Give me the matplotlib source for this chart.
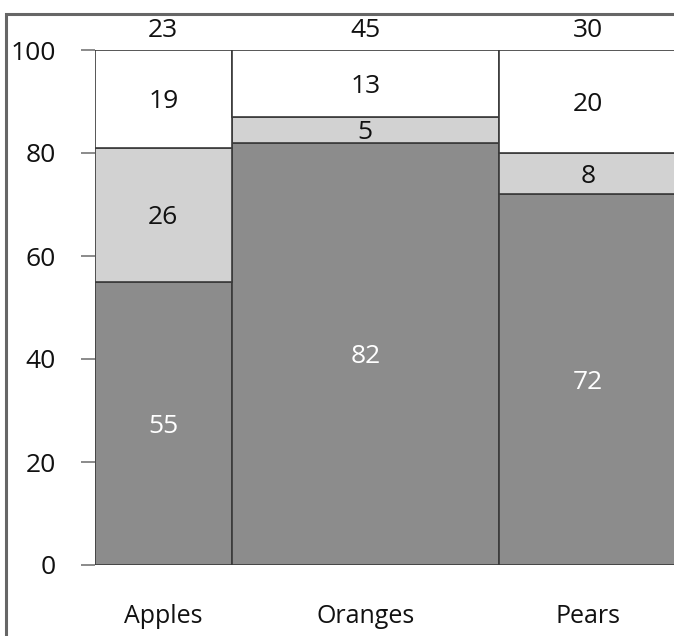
import matplotlib.pyplot as plt
import numpy as np
from matplotlib.patches import Rectangle

# Data
categories = ['Apples', 'Oranges', 'Pears']
widths = [23, 45, 30]
bottom_share = [55, 82, 72]
middle_share = [26, 5, 8]
top_share = [19, 13, 20]

plt.rcParams['font.family'] = ['Open Sans', 'DejaVu Sans']

fig = plt.figure(figsize=(6.74, 6.36), dpi=100)
ax = fig.add_axes([95 / 674, 1 - 565 / 636, 1 - 95 / 674, (565 - 50) / 636])

lefts = np.concatenate([[0], np.cumsum(widths)[:-1]])
b1 = np.array(bottom_share)
b2 = b1 + np.array(middle_share)

edge = '#3a3a3a'
ax.bar(lefts, bottom_share, width=widths, align='edge', color='#8c8c8c',
       edgecolor=edge, linewidth=1.2)
ax.bar(lefts, middle_share, width=widths, bottom=b1, align='edge', color='#d2d2d2',
       edgecolor=edge, linewidth=1.2)
ax.bar(lefts, top_share, width=widths, bottom=b2, align='edge', color='white',
       edgecolor=edge, linewidth=1.2)

fs = 19
centers = lefts + np.array(widths) / 2
for i in range(len(categories)):
    ax.text(centers[i], bottom_share[i] / 2, str(bottom_share[i]), ha='center',
            va='center_baseline', color='white', fontsize=fs)
    ax.text(centers[i], b1[i] + middle_share[i] / 2, str(middle_share[i]),
            ha='center', va='center_baseline', color='#111111', fontsize=fs)
    ax.text(centers[i], b2[i] + top_share[i] / 2, str(top_share[i]),
            ha='center', va='center_baseline', color='#111111', fontsize=fs)
    ax.text(centers[i], 104.3, str(widths[i]), ha='center', va='center_baseline',
            color='#111111', fontsize=fs, clip_on=False)

ax.set_xlim(0, (674 - 95) / 5.94)
ax.set_ylim(0, 100)
ax.set_yticks([0, 20, 40, 60, 80, 100])
ax.set_xticks(centers)
ax.set_xticklabels(categories, fontsize=18)
ax.tick_params(axis='y', length=10, width=1.2, color='#777777', labelsize=fs,
               pad=18, labelcolor='#111111')
ax.tick_params(axis='x', length=0, pad=28, labelcolor='#111111')
for s in ax.spines.values():
    s.set_visible(False)
ax.patch.set_alpha(0)

# outer frame
fig.patches.append(Rectangle((6 / 674, -0.1), 1.0, 1 - 14 / 636 + 0.1,
                             transform=fig.transFigure, fill=False,
                             edgecolor='#666666', linewidth=2.2))

fig.savefig('out.png', dpi=100)
